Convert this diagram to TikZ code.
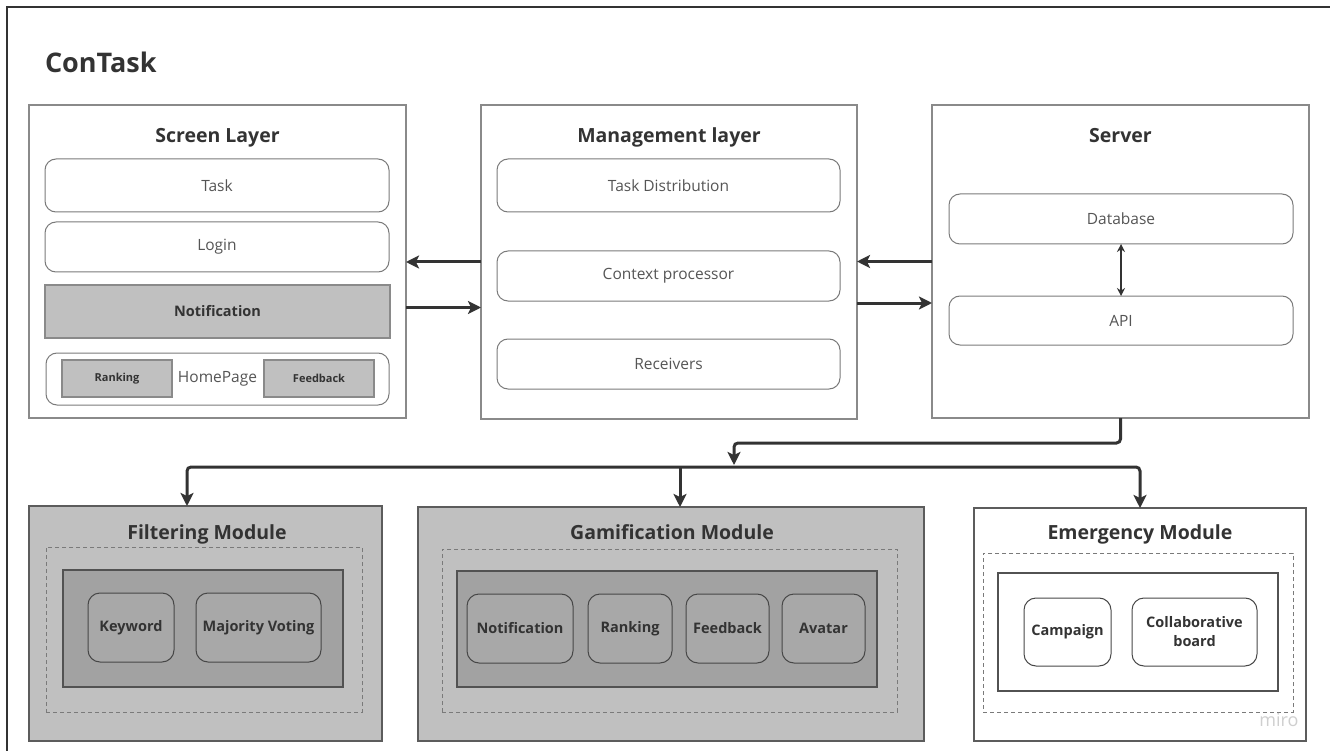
\documentclass[tikz,border=0pt]{standalone}
\usepackage{fontspec}
\setmainfont{Open Sans}
\usetikzlibrary{arrows.meta}

\definecolor{ink}{HTML}{333333}
\definecolor{softtext}{HTML}{555555}
\definecolor{edgegray}{HTML}{8A8A8A}
\definecolor{itemgray}{HTML}{7A7A7A}
\definecolor{modgray}{HTML}{C0C0C0}
\definecolor{coregray}{HTML}{A2A2A2}
\definecolor{chipgray}{HTML}{A8A8A8}
\definecolor{miroink}{HTML}{CFCFCF}

\begin{document}
\begin{tikzpicture}[x=1pt,y=-1pt,
  every node/.style={inner sep=0pt, outer sep=0pt},
  layer/.style={draw=edgegray, line width=1.5pt, fill=white},
  title/.style={anchor=base, text=ink, font=\bfseries\fontsize{19.5}{22}\selectfont},
  item/.style={draw=itemgray, line width=1pt, rounded corners=11pt, fill=white,
    text=softtext, font=\fontsize{15.5}{18}\selectfont},
  bar/.style={draw=edgegray, line width=1.5pt, fill=modgray, text=ink},
  module/.style={draw=ink!80, line width=1.5pt, fill=modgray},
  dashbox/.style={draw=itemgray, line width=1pt, dash pattern=on 4pt off 3pt},
  core/.style={draw=ink!85, line width=1.5pt, fill=coregray},
  chip/.style={draw=ink!90, line width=1pt, rounded corners=12pt, fill=chipgray,
    text=ink, align=center, font=\bfseries\fontsize{14.5}{19}\selectfont},
  wchip/.style={chip, fill=white},
  arr/.style={draw=ink, line width=3pt, -{Stealth[length=13pt, width=13pt, inset=3pt]}},
  arrs/.style={draw=ink, line width=3pt, {Stealth[length=13pt, width=13pt, inset=3pt]}-{Stealth[length=13pt, width=13pt, inset=3pt]}},
  thin/.style={draw=ink, line width=1.2pt, {Stealth[length=8pt, width=8pt]}-{Stealth[length=8pt, width=8pt]}}]

\useasboundingbox (0,0) rectangle (1330,751);
\fill[white] (0,0) rectangle (1330,751);
\draw[ink, line width=2pt] (7,751) -- (7,7) -- (1330,7);

\node (head) [anchor=base west, text=ink, font=\bfseries\fontsize{27}{30}\selectfont] at (45,73) {ConTask};

\node (screen) [layer, minimum width=377pt, minimum height=313pt] at (217.5,261.5) {};
\node (screenT) [title] at (217.5,143) {Screen Layer};
\node (task) [item, minimum width=344pt, minimum height=53pt] at (217,185.5) {Task};
\node (login) [item, minimum width=344pt, minimum height=50pt] at (217,247) {Login};
\node (notif) [bar, minimum width=345pt, minimum height=53pt,
  font=\bfseries\fontsize{14.5}{17}\selectfont] at (217.5,311.5) {Notification};
\node (home) [item, minimum width=343pt, minimum height=52pt] at (217.5,379) {HomePage};
\node (rank) [bar, minimum width=110pt, minimum height=37pt,
  font=\bfseries\fontsize{11}{13}\selectfont] at (117,378.5) {Ranking};
\node (feed) [bar, minimum width=110pt, minimum height=37pt,
  font=\bfseries\fontsize{11}{13}\selectfont] at (319,378.5) {Feedback};

\node (mgmt) [layer, minimum width=376pt, minimum height=314pt] at (669,262) {};
\node (mgmtT) [title] at (669,143) {Management layer};
\node (dist) [item, minimum width=343pt, minimum height=53pt] at (668.5,185.5) {Task Distribution};
\node (ctx) [item, minimum width=343pt, minimum height=50pt] at (668.5,276) {Context processor};
\node (recv) [item, minimum width=343pt, minimum height=50pt] at (668.5,364) {Receivers};

\node (server) [layer, minimum width=377pt, minimum height=313pt] at (1120.5,261.5) {};
\node (serverT) [title] at (1120.5,143) {Server};
\node (db) [item, minimum width=344pt, minimum height=50pt] at (1121,219) {Database};
\node (api) [item, minimum width=344pt, minimum height=49pt] at (1121,320.5) {API};

\draw[arr] (mgmt.west) -- (mgmt.west -| screen.east);
\draw[arr] ([yshift=-46pt]screen.east) -- ([yshift=-46pt]screen.east -| mgmt.west);
\draw[arr] (server.west) -- (server.west -| mgmt.east);
\draw[arr] ([yshift=-41pt]mgmt.east) -- ([yshift=-41pt]mgmt.east -| server.west);
\draw[thin] (db.south) -- (api.north);

\node (filt) [module, minimum width=353pt, minimum height=235pt] at (205.5,623.5) {};
\node (filtT) [title] at (207,539) {Filtering Module};
\node (filtD) [dashbox, minimum width=316pt, minimum height=165pt] at (204,629.5) {};
\node (filtC) [core, minimum width=280pt, minimum height=117pt] at (203,628.5) {};
\node (kw) [chip, minimum width=86pt, minimum height=69pt] at (131,627.5) {Keyword};
\node (vote) [chip, minimum width=125pt, minimum height=69pt] at (258.5,627.5) {Majority Voting};

\node (gam) [module, minimum width=506pt, minimum height=234pt] at (671,624) {};
\node (gamT) [title] at (672,539) {Gamification Module};
\node (gamD) [dashbox, minimum width=455pt, minimum height=163pt] at (669.5,630.5) {};
\node (gamC) [core, minimum width=420pt, minimum height=116pt] at (667,629) {};
\node (gnotif) [chip, minimum width=106pt, minimum height=69pt] at (520,628.5) {Notification};
\node (grank) [chip, minimum width=84pt, minimum height=69pt] at (630,628.5) {Ranking};
\node (gfeed) [chip, minimum width=83pt, minimum height=69pt] at (727.5,628.5) {Feedback};
\node (gava) [chip, minimum width=83pt, minimum height=69pt] at (823.5,628.5) {Avatar};

\node (emer) [module, fill=white, minimum width=332pt, minimum height=233pt] at (1140,624.5) {};
\node (emerT) [title] at (1140,539) {Emergency Module};
\node (emerD) [dashbox, minimum width=310pt, minimum height=159pt] at (1138,632.5) {};
\node (emerC) [core, fill=white, minimum width=280pt, minimum height=118pt] at (1138,632) {};
\node (camp) [wchip, minimum width=87pt, minimum height=68pt] at (1067.5,632) {Campaign};
\node (board) [wchip, minimum width=125pt, minimum height=68pt] at (1194.5,632) {Collaborative\\board};

\node (miro) [text=miroink, font=\fontsize{18}{20}\selectfont] at (1279,720) {miro};

\coordinate (turn) at (734,443);
\coordinate (busin) at (734,465);
\coordinate (busL) at (187,467);
\coordinate (busR) at (1140,467);
\coordinate (busM) at (680,467);
\draw[arr, rounded corners=4pt] (server.south) |- (turn) -- (busin);
\draw[arrs, rounded corners=4pt] (busL |- filt.north) -- (busL) -- (busR) -- (busR |- emer.north);
\draw[arr] (busM) -- (busM |- gam.north);
\end{tikzpicture}
\end{document}
